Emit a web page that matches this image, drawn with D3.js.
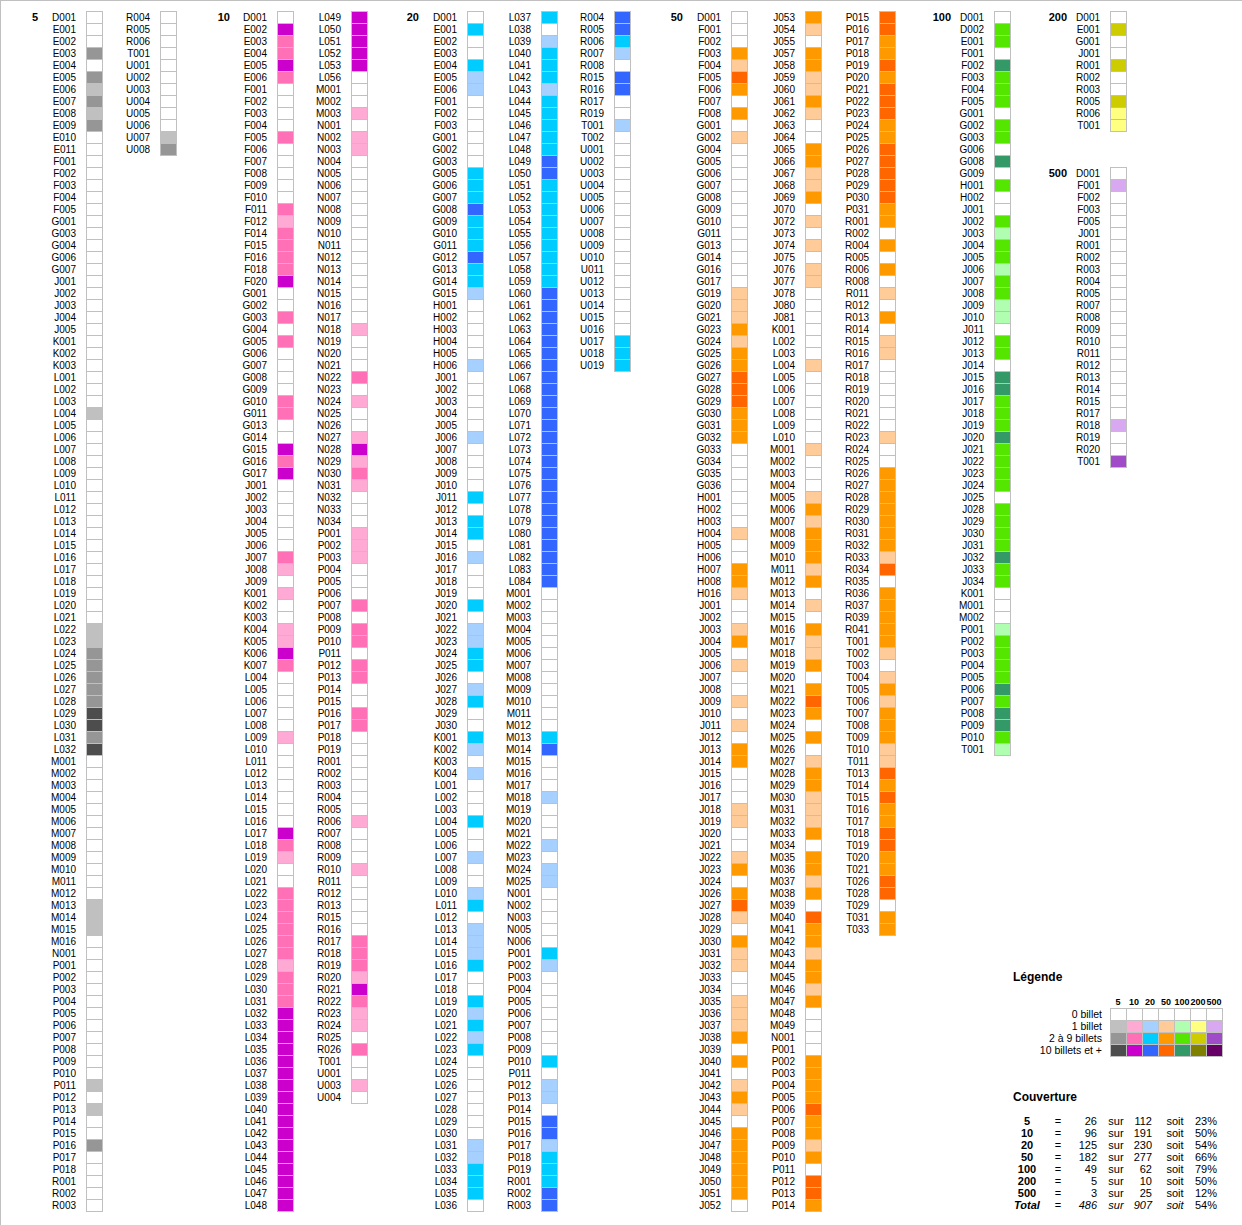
<!DOCTYPE html>
<html><head><meta charset="utf-8">
<script src="https://cdn.jsdelivr.net/npm/d3@7"></script>
<style>
body{margin:0;background:#fff}
svg{display:block}
text{font-family:"Liberation Sans",Arial,Helvetica,sans-serif;fill:#000}
</style>
</head><body>
<svg id="chart" width="1242" height="1225"></svg>
<script>
// ---------------- DATA ----------------
const denominations = ["5","10","20","50","100","200","500"];
const levelLabels = ["0 billet","1 billet","2 à 9 billets","10 billets et +"];

const codes5 = ["D001","E001","E002","E003","E004","E005","E006","E007","E008","E009","E010","E011",
"F001","F002","F003","F004","F005","G001","G003","G004","G006","G007",
"J001","J002","J003","J004","J005","K001","K002","K003",
"L001","L002","L003","L004","L005","L006","L007","L008","L009","L010",
"L011","L012","L013","L014","L015","L016","L017","L018","L019","L020",
"L021","L022","L023","L024","L025","L026","L027","L028","L029","L030","L031","L032",
"M001","M002","M003","M004","M005","M006","M007","M008","M009","M010","M011","M012","M013","M014","M015","M016",
"N001",
"P001","P002","P003","P004","P005","P006","P007","P008","P009","P010","P011","P012","P013","P014","P015","P016","P017","P018",
"R001","R002","R003","R004","R005","R006","T001",
"U001","U002","U003","U004","U005","U006","U007","U008"];
const levels5 = [0,0,0,2,0,2,1,2,1,2,0,0,
0,0,0,0,0, 0,0,0,0,0,
0,0,0,0,0, 0,0,0,
0,0,0,1,0,0,0,0,0,0,
0,0,0,0,0,0,0,0,0,0,
0,1,1,2,2,2,2,2,3,3,2,3,
0,0,0,0,0,0,0,0,0,0,0,0,1,1,1,0,
0,
0,0,0,0,0,0,0,0,0,0,1,0,1,0,0,2,0,0,
0,0,0,0,0,0,0,
0,0,0,0,0,0,1,2];

const codes10 = ["D001","E002","E003","E004","E005","E006",
"F001","F002","F003","F004","F005","F006","F007","F008","F009","F010","F011","F012","F014","F015","F016","F018","F020",
"G001","G002","G003","G004","G005","G006","G007","G008","G009","G010","G011","G013","G014","G015","G016","G017",
"J001","J002","J003","J004","J005","J006","J007","J008","J009",
"K001","K002","K003","K004","K005","K006","K007",
"L004","L005","L006","L007","L008","L009","L010","L011","L012","L013","L014","L015","L016","L017","L018","L019","L020",
"L021","L022","L023","L024","L025","L026","L027","L028","L029","L030","L031","L032","L033","L034","L035","L036","L037","L038","L039","L040",
"L041","L042","L043","L044","L045","L046","L047","L048","L049","L050","L051","L052","L053","L056",
"M001","M002","M003",
"N001","N002","N003","N004","N005","N006","N007","N008","N009","N010",
"N011","N012","N013","N014","N015","N016","N017","N018","N019","N020",
"N021","N022","N023","N024","N025","N026","N027","N028","N029","N030","N031","N032","N033","N034",
"P001","P002","P003","P004","P005","P006","P007","P008","P009","P010",
"P011","P012","P013","P014","P015","P016","P017","P018","P019",
"R001","R002","R003","R004","R005","R006","R007","R008","R009","R010","R011","R012","R013",
"R015","R016","R017","R018","R019","R020","R021","R022","R023","R024","R025","R026",
"T001","U001","U003","U004"];
const levels10 = [0,3,2,2,3,2,
0,0,0,0,2,0,0,0,0,0,2,1,2,2,2,2,3,
0,0,2,0,2,0,0,0,0,2,2,0,0,3,2,3,
0,0,0,0,0,0,2,1,0,
1,0,0,1,1,3,2,
0,0,0,0,0,1,0,0,0,0,0,0,0,3,2,1,0,
0,2,2,2,2,2,2,1,2,2,2,3,3,3,3,3,3,3,3,3,
3,3,3,3,3,3,3,3,3,3,3,3,3,0,
0,0,1,
0,1,1,0,0,0,0,0,0,0,
0,0,0,0,0,0,0,1,0,0,
0,2,0,1,0,0,1,3,1,2,1,0,0,0,
1,1,1,0,0,0,2,0,2,2,
0,2,2,0,0,2,2,0,0,
0,0,0,0,0,1,0,0,0,1,0,0,0,
0,0,2,2,2,1,3,2,1,1,0,2,
0,0,1,0];

const codes20 = ["D001","E001","E002","E003","E004","E005","E006","F001","F002","F003",
"G001","G002","G003","G005","G006","G007","G008","G009","G010","G011","G012","G013","G014","G015",
"H001","H002","H003","H004","H005","H006",
"J001","J002","J003","J004","J005","J006","J007","J008","J009","J010",
"J011","J012","J013","J014","J015","J016","J017","J018","J019","J020",
"J021","J022","J023","J024","J025","J026","J027","J028","J029","J030",
"K001","K002","K003","K004",
"L001","L002","L003","L004","L005","L006","L007","L008","L009","L010",
"L011","L012","L013","L014","L015","L016","L017","L018","L019","L020",
"L021","L022","L023","L024","L025","L026","L027","L028","L029","L030",
"L031","L032","L033","L034","L035","L036","L037","L038","L039","L040",
"L041","L042","L043","L044","L045","L046","L047","L048","L049","L050",
"L051","L052","L053","L054","L055","L056","L057","L058","L059","L060",
"L061","L062","L063","L064","L065","L066","L067","L068","L069","L070",
"L071","L072","L073","L074","L075","L076","L077","L078","L079","L080",
"L081","L082","L083","L084",
"M001","M002","M003","M004","M005","M006","M007","M008","M009","M010",
"M011","M012","M013","M014","M015","M016","M017","M018","M019","M020",
"M021","M022","M023","M024","M025",
"N001","N002","N003","N005","N006",
"P001","P002","P003","P004","P005","P006","P007","P008","P009","P010",
"P011","P012","P013","P014","P015","P016","P017","P018","P019",
"R001","R002","R003","R004","R005","R006","R007","R008","R015","R016","R017","R019",
"T001","T002",
"U001","U002","U003","U004","U005","U006","U007","U008","U009","U010",
"U011","U012","U013","U014","U015","U016","U017","U018","U019"];
const levels20 = [0,2,0,0,2,1,1,0,0,0,
0,0,0,2,2,2,3,2,2,2,3,2,2,1,
0,0,0,0,0,1,
0,0,0,0,0,1,0,0,0,0,
2,0,2,2,0,1,0,0,0,2,
0,1,1,2,2,0,1,2,0,0,
2,1,0,1,
0,0,0,2,0,0,1,0,0,1,
2,0,1,1,1,2,0,0,2,1,
2,1,2,0,0,0,0,0,0,0,
1,1,2,2,2,0,2,0,1,2,
2,2,1,2,2,2,2,2,3,3,
2,2,2,2,2,2,2,2,2,3,
3,3,3,3,3,3,3,3,3,3,
3,3,3,3,3,3,3,3,3,3,
3,3,3,3,
0,0,0,0,0,0,0,0,0,0,
0,0,2,3,0,0,0,1,0,0,
0,1,0,1,1,
0,0,0,0,0,
2,1,0,0,0,0,0,0,0,2,
0,1,1,0,3,3,1,2,2,
2,3,3,3,3,2,1,0,3,3,0,0,
1,0,
0,0,0,0,0,0,0,0,0,0,
0,0,0,0,0,0,2,2,2];

const codes50 = ["D001","F001","F002","F003","F004","F005","F006","F007","F008",
"G001","G002","G004","G005","G006","G007","G008","G009","G010","G011","G013","G014","G016","G017",
"G019","G020","G021","G023","G024","G025","G026","G027","G028","G029","G030","G031","G032","G033","G034","G035","G036",
"H001","H002","H003","H004","H005","H006","H007","H008","H016",
"J001","J002","J003","J004","J005","J006","J007","J008","J009","J010",
"J011","J012","J013","J014","J015","J016","J017","J018","J019","J020",
"J021","J022","J023","J024",
"J026","J027","J028","J029","J030","J031","J032","J033","J034","J035",
"J036","J037","J038","J039","J040","J041","J042","J043","J044","J045",
"J046","J047","J048","J049","J050","J051","J052","J053","J054","J055",
"J057","J058","J059","J060","J061","J062","J063","J064","J065","J066","J067","J068","J069","J070",
"J072","J073","J074","J075","J076","J077","J078","J080","J081",
"K001","L002","L003","L004","L005","L006","L007","L008","L009","L010",
"M001","M002","M003","M004","M005","M006","M007","M008","M009","M010",
"M011","M012","M013","M014","M015","M016","M017","M018","M019","M020",
"M021","M022","M023","M024","M025","M026","M027","M028","M029","M030",
"M031","M032","M033","M034","M035","M036","M037","M038","M039","M040",
"M041","M042","M043","M044","M045","M046","M047","M048","M049",
"N001",
"P001","P002","P003","P004","P005","P006","P007","P008","P009","P010",
"P011","P012","P013","P014","P015","P016","P017","P018","P019","P020",
"P021","P022","P023","P024","P025","P026","P027","P028","P029","P030","P031",
"R001","R002","R004","R005","R006","R008",
"R011","R012","R013","R014","R015","R016","R017","R018","R019","R020",
"R021","R022","R023","R024","R025","R026","R027","R028","R029","R030",
"R031","R032","R033","R034","R035","R036","R037","R039","R041",
"T001","T002","T003","T004","T005","T006","T007","T008","T009","T010","T011",
"T013","T014","T015","T016","T017","T018","T019","T020","T021",
"T026","T028","T029","T031","T033"];
const levels50 = [0,0,0,2,1,3,2,0,2,
0,1,0,0,0,0,0,0,0,0,0,0,0,0,
1,1,1,2,1,2,2,3,3,3,2,2,2,0,0,0,0,
0,0,0,1,0,0,2,2,1,
0,0,1,2,0,1,0,0,1,0,
1,0,2,2,0,0,0,1,1,0,
0,1,2,0,
2,3,1,0,2,1,1,0,0,1,
1,1,2,0,2,0,1,2,1,0,
2,2,2,2,2,2,0,2,1,0,
2,2,1,1,2,1,0,0,2,2,1,1,2,0,
1,0,1,0,1,1,0,0,0,
0,0,0,1,0,0,0,0,0,0,
1,0,0,0,1,2,1,2,2,2,
1,2,0,1,0,2,1,1,2,0,
2,3,2,0,2,0,1,2,2,1,
1,1,2,0,2,2,1,2,0,3,
2,2,1,2,2,1,2,0,0,
0,
0,2,2,2,2,3,2,2,1,2,
0,3,3,2,3,3,2,2,3,2,
3,3,3,2,2,3,3,3,3,3,2,
2,0,2,0,2,0,
1,0,2,0,1,1,0,0,0,0,
0,0,1,0,0,2,2,2,2,2,
2,2,1,3,0,2,2,2,2,
2,1,0,1,2,1,2,2,2,1,1,
3,2,3,2,2,3,3,2,2,
3,3,0,2,2];

const codes100 = ["D001","D002","E001","F001","F002","F003","F004","F005",
"G001","G002","G003","G006","G008","G009","H001","H002",
"J001","J002","J003","J004","J005","J006","J007","J008","J009","J010",
"J011","J012","J013","J014","J015","J016","J017","J018","J019","J020",
"J021","J022","J023","J024","J025","J028","J029","J030","J031","J032","J033","J034",
"K001","M001","M002",
"P001","P002","P003","P004","P005","P006","P007","P008","P009","P010","T001"];
const levels100 = [0,2,2,0,3,2,2,2,
0,2,2,0,3,0,2,0,
0,2,1,2,2,1,2,2,1,1,
0,2,2,0,3,3,2,2,2,3,
2,2,2,2,0,2,2,2,2,3,2,2,
0,0,0,
1,2,2,2,2,3,2,3,3,2,1];

const codes200 = ["D001","E001","G001","J001","R001","R002","R003","R005","R006","T001"];
const levels200 = [0,2,0,0,2,0,0,2,1,1];

const codes500 = ["D001","F001","F002","F003","F005","J001","R001","R002","R003","R004","R005",
"R007","R008","R009","R010","R011","R012","R013","R014","R015","R017","R018","R019","R020","T001"];
const levels500 = [0,1,0,0,0,0,0,0,0,0,0,
0,0,0,0,0,0,0,0,0,0,1,0,0,2];

// ---------------- STYLES / LAYOUT ----------------
const palettes = {
  "5":   ["#ffffff","#c0c0c0","#969696","#4d4d4d"],
  "10":  ["#ffffff","#ffaad5","#ff70b6","#cc00cc"],
  "20":  ["#ffffff","#a6d0ff","#00ccff","#3366ff"],
  "50":  ["#ffffff","#ffcc99","#ff9900","#ff6600"],
  "100": ["#ffffff","#b0ffb0","#55e600","#339966"],
  "200": ["#ffffff","#ffff80","#cccc00","#808000"],
  "500": ["#ffffff","#d8a8f0","#a04cc8","#660066"]
};
const layout = {
  "5":   {header: 38,   cells: [86, 160],      rowOffset: 0},
  "10":  {header: 230,  cells: [277, 351],     rowOffset: 0},
  "20":  {header: 419,  cells: [467, 541, 614],rowOffset: 0},
  "50":  {header: 683,  cells: [731, 805, 879],rowOffset: 0},
  "100": {header: 951,  cells: [994],          rowOffset: 0},
  "200": {header: 1067, cells: [1110],         rowOffset: 0},
  "500": {header: 1067, cells: [1110],         rowOffset: 13}
};
const border = "#c0c0c0";
const ROWS = 100;

const series = [
  {key:"5",   codes:codes5,   levels:levels5},
  {key:"10",  codes:codes10,  levels:levels10},
  {key:"20",  codes:codes20,  levels:levels20},
  {key:"50",  codes:codes50,  levels:levels50},
  {key:"100", codes:codes100, levels:levels100},
  {key:"200", codes:codes200, levels:levels200},
  {key:"500", codes:codes500, levels:levels500}
];

// ---------------- DRAW ----------------
const svg = d3.select("#chart");
svg.append("rect").attr("width",1242).attr("height",1225).attr("fill","#fff");
svg.append("line").attr("x1",0).attr("x2",1242).attr("y1",0.5).attr("y2",0.5).attr("stroke",border);
svg.append("line").attr("x1",0.5).attr("x2",0.5).attr("y1",0).attr("y2",1225).attr("stroke",border);

const rowY = d3.scaleBand().domain(d3.range(ROWS)).range([11, 11 + ROWS*12]);

series.forEach(s => {
  const lay = layout[s.key];
  const color = d3.scaleOrdinal().domain([0,1,2,3]).range(palettes[s.key]);
  const colX = d3.scaleOrdinal().domain(d3.range(lay.cells.length)).range(lay.cells);
  const items = s.codes.map((c, i) => ({
    code: c, level: s.levels[i],
    sub: Math.floor(i / ROWS), row: (i % ROWS) + lay.rowOffset
  }));
  const g = svg.append("g").attr("class","denom-" + s.key);
  g.append("text")
    .attr("x", lay.header).attr("y", rowY(lay.rowOffset) + rowY.bandwidth()/2)
    .attr("dy","0.35em").attr("text-anchor","end")
    .style("font-size","11px").style("font-weight","bold")
    .text(s.key);
  g.selectAll("rect.cell").data(items).join("rect")
    .attr("class","cell")
    .attr("x", d => colX(d.sub) + 0.5)
    .attr("y", d => rowY(d.row) + 0.5)
    .attr("width", 16).attr("height", rowY.bandwidth())
    .attr("fill", d => color(d.level))
    .attr("stroke", border).attr("stroke-width", 1);
  g.selectAll("text.lbl").data(items).join("text")
    .attr("class","lbl")
    .attr("x", d => colX(d.sub) - 10)
    .attr("y", d => rowY(d.row) + rowY.bandwidth()/2)
    .attr("dy","0.35em").attr("text-anchor","end")
    .style("font-size","10px")
    .text(d => d.code);
});

// Legend
const lg = svg.append("g");
lg.append("text").attr("x",1013).attr("y",977).attr("dy","0.35em")
  .style("font-size","12px").style("font-weight","bold").text("Légende");
const lx = d3.scaleBand().domain(denominations).range([1110, 1222]);
const ly = d3.scaleBand().domain(d3.range(levelLabels.length)).range([1008, 1056]);
lg.selectAll("text.lh").data(denominations).join("text").attr("class","lh")
  .attr("x", d => lx(d) + lx.bandwidth()/2).attr("y", 1002).attr("dy","0.35em")
  .attr("text-anchor","middle").style("font-size","9px").style("font-weight","bold")
  .text(d => d);
lg.selectAll("text.ll").data(levelLabels).join("text").attr("class","ll")
  .attr("x", 1102).attr("y", (d,i) => ly(i) + ly.bandwidth()/2).attr("dy","0.35em")
  .attr("text-anchor","end").style("font-size","10.5px").text(d => d);
const legendCells = [];
denominations.forEach(k => levelLabels.forEach((l, i) => legendCells.push({k, i})));
lg.selectAll("rect").data(legendCells).join("rect")
  .attr("x", d => lx(d.k) + 0.5).attr("y", d => ly(d.i) + 0.5)
  .attr("width", lx.bandwidth()).attr("height", ly.bandwidth())
  .attr("fill", d => palettes[d.k][d.i]).attr("stroke", border);

// Coverage
const cg = svg.append("g");
cg.append("text").attr("x",1013).attr("y",1097).attr("dy","0.35em")
  .style("font-size","12px").style("font-weight","bold").text("Couverture");
const covRows = series.map(s => ({
  label: s.key, have: s.levels.filter(v => v > 0).length, total: s.codes.length, isTotal: false
}));
covRows.push({
  label: "Total",
  have: d3.sum(covRows, d => d.have),
  total: d3.sum(covRows, d => d.total),
  isTotal: true
});
const cy = d3.scaleBand().domain(d3.range(covRows.length)).range([1115.5, 1115.5 + 12*covRows.length]);
const rowsG = cg.selectAll("g.cov").data(covRows).join("g").attr("class","cov")
  .attr("transform", (d,i) => `translate(0,${cy(i) + 6})`);
function cell(sel, x, anchor, textFn, opts) {
  sel.append("text").attr("x", x).attr("dy","0.35em").attr("text-anchor", anchor)
    .style("font-size","11px")
    .style("font-weight", d => (opts && opts.bold) ? "bold" : "normal")
    .style("font-style", d => (opts && opts.italic && d.isTotal) ? "italic" : "normal")
    .text(textFn);
}
cell(rowsG, 1027, "middle", d => d.label, {bold:true, italic:true});
cell(rowsG, 1058, "middle", () => "=");
cell(rowsG, 1097, "end", d => d.have, {italic:true});
cell(rowsG, 1116, "middle", () => "sur", {italic:true});
cell(rowsG, 1152, "end", d => d.total, {italic:true});
cell(rowsG, 1175, "middle", () => "soit", {italic:true});
cell(rowsG, 1217, "end", d => Math.round(100 * d.have / d.total) + "%");
</script>
</body></html>
